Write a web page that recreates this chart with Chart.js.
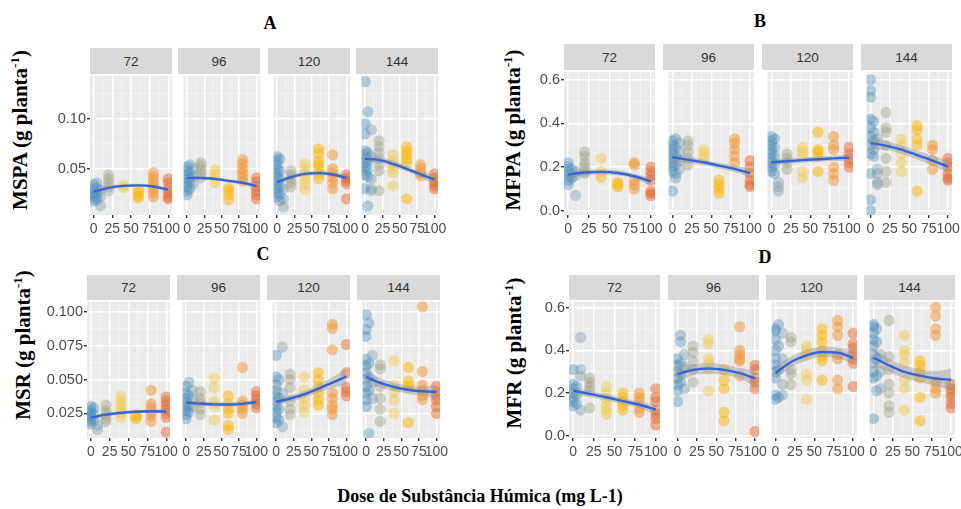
<!DOCTYPE html>
<html><head><meta charset="utf-8">
<script src="https://cdn.jsdelivr.net/npm/chart.js@4.4.0/dist/chart.umd.min.js"></script>
<style>
body{margin:0;background:#fff;width:961px;height:509px;overflow:hidden;position:relative;font-family:"Liberation Sans",Arial,sans-serif}
.strip{position:absolute;background:#d9d9d9;color:#333;font-size:13.5px;display:flex;align-items:center;justify-content:center;font-family:"Liberation Sans",Arial,sans-serif}
.title{position:absolute;font-family:"Liberation Serif","Times New Roman",serif;font-weight:bold;transform:translate(-50%,-50%);white-space:nowrap;color:#000}
.ytitle{position:absolute;font-family:"Liberation Serif","Times New Roman",serif;font-weight:bold;font-size:21px;transform:translate(-50%,-50%) rotate(-90deg);white-space:nowrap;color:#000}
.ytitle sup{font-size:13px}
canvas{position:absolute}
</style></head><body>
<script>
// ---------- DATA ----------
const facetLabels = ['72', '96', '120', '144'];
const doseGroups = [0, 4, 9, 20, 40, 60, 80, 100];
const fitDoses = [0, 20, 40, 60, 80, 100];
const xTicks = [0, 25, 50, 75, 100];
const xTickLabels = ['0', '25', '50', '75', '100'];

const ticksA = [0.05, 0.10];
const tickLabelsA = ['0.05', '0.10'];
const ticksB = [0.0, 0.2, 0.4, 0.6];
const tickLabelsB = ['0.0', '0.2', '0.4', '0.6'];
const ticksC = [0.025, 0.050, 0.075, 0.100];
const tickLabelsC = ['0.025', '0.050', '0.075', '0.100'];
const ticksD = [0.0, 0.2, 0.4, 0.6];
const tickLabelsD = ['0.0', '0.2', '0.4', '0.6'];

// Panel A: MSPA
const mspa72 = [
 [0.034,0.030,0.027,0.024,0.021,0.018],
 [0.036,0.031,0.026,0.022,0.019],
 [0.029,0.022,0.013],
 [0.044,0.040,0.036,0.032,0.028],
 [0.034,0.031],
 [0.029,0.026,0.023,0.021],
 [0.046,0.042,0.038,0.034,0.030,0.026,0.022],
 [0.040,0.036,0.030,0.026,0.022,0.020]
];
const mspa96 = [
 [0.052,0.048,0.044,0.040,0.036,0.032,0.028,0.024],
 [0.054,0.046,0.041,0.037,0.030],
 [0.050,0.043,0.035],
 [0.056,0.053,0.049,0.045,0.041],
 [0.049,0.045,0.041,0.036],
 [0.031,0.028,0.024,0.019],
 [0.059,0.055,0.050,0.046,0.042,0.038],
 [0.041,0.037,0.032,0.028,0.024,0.020]
];
const mspa120 = [
 [0.062,0.058,0.054,0.050,0.046,0.042,0.038,0.034,0.030,0.026,0.022],
 [0.060,0.048,0.040,0.032,0.024,0.018],
 [0.030,0.020,0.012],
 [0.048,0.044,0.040,0.036,0.032],
 [0.055,0.050,0.045,0.040,0.035,0.029],
 [0.070,0.065,0.058,0.054,0.050,0.045,0.040],
 [0.064,0.050,0.046,0.041,0.036,0.030],
 [0.044,0.041,0.038,0.035,0.020]
];
const mspa144 = [
 [0.137,0.095,0.085,0.068,0.064,0.060,0.056,0.052,0.048,0.044,0.030],
 [0.107,0.066,0.058,0.050,0.042,0.013],
 [0.089,0.062,0.040,0.030,0.028],
 [0.078,0.072,0.066,0.060,0.054,0.048,0.028],
 [0.064,0.058,0.054,0.050,0.046,0.033],
 [0.072,0.068,0.064,0.060,0.056,0.020],
 [0.054,0.050,0.046,0.043],
 [0.045,0.041,0.037,0.033,0.030]
];
const fitMSPA = [
 [0.027,0.031,0.033,0.0335,0.0323,0.029],
 [0.041,0.0408,0.040,0.038,0.036,0.0328],
 [0.0368,0.0417,0.045,0.0457,0.0444,0.0411],
 [0.0599,0.059,0.055,0.050,0.0444,0.0391]
];
const seMSPA = [
 [0.002,0.0015,0.0015,0.0015,0.0015,0.002],
 [0.002,0.0015,0.0015,0.0015,0.002,0.003],
 [0.003,0.002,0.002,0.002,0.002,0.003],
 [0.004,0.003,0.003,0.003,0.003,0.005]
];

// Panel B: MFPA
const mfpa72 = [
 [0.22,0.20,0.18,0.16,0.14,0.12],
 [0.19,0.17,0.15],
 [0.18,0.16,0.07],
 [0.27,0.25,0.22,0.20,0.18,0.17],
 [0.24,0.18,0.16,0.15],
 [0.13,0.12,0.11],
 [0.22,0.21,0.14,0.12,0.10],
 [0.20,0.18,0.16,0.14,0.09,0.08,0.07]
];
const mfpa96 = [
 [0.32,0.30,0.28,0.26,0.24,0.22,0.20,0.18,0.09],
 [0.33,0.29,0.25,0.21,0.17,0.15],
 [0.31,0.27,0.23,0.19],
 [0.32,0.30,0.27,0.24,0.21],
 [0.28,0.26,0.24],
 [0.14,0.12,0.10,0.08],
 [0.33,0.31,0.28,0.25,0.22],
 [0.23,0.20,0.17,0.14,0.12,0.11]
];
const mfpa120 = [
 [0.34,0.32,0.30,0.28,0.26,0.24,0.22,0.20,0.18],
 [0.33,0.29,0.25,0.21,0.17],
 [0.13,0.11,0.09],
 [0.26,0.24,0.22,0.19],
 [0.29,0.27,0.25,0.18,0.15],
 [0.36,0.28,0.27,0.25,0.18],
 [0.34,0.30,0.28,0.20,0.17,0.14],
 [0.29,0.26,0.24,0.22,0.20]
];
const mfpa144 = [
 [0.60,0.55,0.52,0.42,0.38,0.34,0.30,0.26,0.17,0.05,0.0],
 [0.41,0.36,0.32,0.28,0.25],
 [0.33,0.19,0.17,0.13,0.12],
 [0.45,0.38,0.36,0.30,0.24,0.18,0.13],
 [0.33,0.30,0.26,0.22,0.18],
 [0.39,0.37,0.33,0.30,0.09],
 [0.30,0.28,0.23,0.19],
 [0.24,0.22,0.20,0.17,0.15,0.14]
];
const fitMFPA = [
 [0.166,0.175,0.178,0.173,0.158,0.134],
 [0.245,0.234,0.222,0.207,0.192,0.172],
 [0.222,0.227,0.232,0.236,0.240,0.243],
 [0.310,0.298,0.280,0.255,0.230,0.202]
];
const seMFPA = [
 [0.015,0.012,0.012,0.012,0.012,0.018],
 [0.02,0.015,0.013,0.013,0.015,0.02],
 [0.015,0.012,0.012,0.012,0.012,0.015],
 [0.03,0.02,0.02,0.02,0.022,0.03]
];

// Panel C: MSR
const msr72 = [
 [0.030,0.027,0.025,0.023,0.021,0.019,0.017],
 [0.029,0.024,0.020],
 [0.016,0.013],
 [0.031,0.027,0.024,0.021,0.019],
 [0.038,0.034,0.031,0.028,0.025,0.022],
 [0.024,0.022,0.021],
 [0.042,0.032,0.029,0.026,0.023,0.019],
 [0.037,0.034,0.031,0.028,0.025,0.022,0.011]
];
const msr96 = [
 [0.045,0.040,0.036,0.033,0.030,0.027,0.024,0.021],
 [0.048,0.038,0.031,0.026],
 [0.042,0.035,0.030],
 [0.041,0.036,0.033,0.028,0.024],
 [0.051,0.044,0.034,0.030,0.020],
 [0.038,0.032,0.028,0.025,0.016,0.013],
 [0.059,0.034,0.031,0.028,0.025],
 [0.041,0.038,0.035,0.032,0.029]
];
const msr120 = [
 [0.068,0.052,0.046,0.042,0.038,0.034,0.030,0.026,0.022,0.018],
 [0.050,0.036,0.028,0.020],
 [0.074,0.040,0.015],
 [0.054,0.050,0.044,0.034,0.028,0.024],
 [0.052,0.042,0.036,0.031,0.026],
 [0.055,0.050,0.045,0.040,0.035,0.031],
 [0.091,0.088,0.072,0.040,0.036,0.031,0.028,0.024],
 [0.076,0.055,0.044,0.041,0.038]
];
const msr144 = [
 [0.098,0.087,0.082,0.065,0.060,0.055,0.050,0.045,0.040,0.035,0.030],
 [0.092,0.062,0.052,0.042,0.010],
 [0.068,0.048,0.036],
 [0.061,0.058,0.045,0.036,0.028,0.019],
 [0.064,0.046,0.041,0.035,0.025],
 [0.059,0.049,0.046,0.044,0.018],
 [0.104,0.056,0.046,0.042,0.038,0.035],
 [0.045,0.041,0.038,0.035,0.030,0.025]
];
const fitMSR = [
 [0.0218,0.0240,0.0254,0.0262,0.0265,0.0263],
 [0.0330,0.0322,0.0316,0.0315,0.0320,0.0334],
 [0.0335,0.0360,0.0390,0.0433,0.0477,0.0523],
 [0.0518,0.0476,0.0445,0.0425,0.0413,0.0408]
];
const seMSR = [
 [0.0015,0.0012,0.0012,0.0012,0.0012,0.0018],
 [0.002,0.0015,0.0015,0.0015,0.0015,0.002],
 [0.003,0.0025,0.0025,0.003,0.004,0.006],
 [0.005,0.0035,0.003,0.003,0.0035,0.005]
];

// Panel D: MFR
const mfr72 = [
 [0.31,0.24,0.22,0.20,0.18,0.16,0.14],
 [0.23,0.19,0.15],
 [0.46,0.31,0.28,0.12],
 [0.27,0.25,0.23,0.21,0.13],
 [0.23,0.20,0.17,0.14,0.12,0.10],
 [0.20,0.18,0.16,0.14,0.12],
 [0.20,0.18,0.16,0.13,0.11],
 [0.22,0.18,0.16,0.12,0.10,0.08,0.05]
];
const mfr96 = [
 [0.36,0.33,0.30,0.27,0.24,0.21,0.16],
 [0.47,0.44,0.34,0.29,0.25],
 [0.38,0.32,0.22],
 [0.42,0.39,0.35,0.31,0.25],
 [0.45,0.43,0.36,0.34,0.31,0.21],
 [0.31,0.26,0.22,0.11,0.07],
 [0.51,0.40,0.38,0.36,0.35,0.28],
 [0.33,0.31,0.27,0.25,0.22,0.02]
];
const mfr120 = [
 [0.50,0.49,0.45,0.40,0.36,0.33,0.30,0.27,0.19,0.17],
 [0.52,0.42,0.31,0.18],
 [0.48,0.36,0.24,0.19],
 [0.46,0.44,0.31,0.29,0.24],
 [0.42,0.40,0.38,0.29,0.26,0.17],
 [0.50,0.47,0.44,0.40,0.37,0.35,0.26],
 [0.54,0.51,0.47,0.38,0.36,0.26,0.22],
 [0.48,0.43,0.41,0.38,0.36,0.34,0.23]
];
const mfr144 = [
 [0.52,0.51,0.48,0.45,0.42,0.38,0.34,0.30,0.27,0.08],
 [0.50,0.44,0.36,0.28,0.21],
 [0.38,0.30,0.22],
 [0.54,0.37,0.31,0.24,0.20,0.14,0.11],
 [0.47,0.40,0.38,0.34,0.26,0.22,0.12],
 [0.35,0.33,0.30,0.27,0.18,0.07],
 [0.60,0.56,0.50,0.47,0.25,0.22,0.20],
 [0.24,0.22,0.20,0.18,0.15,0.13]
];
const fitMFR = [
 [0.211,0.196,0.180,0.162,0.145,0.123],
 [0.288,0.308,0.315,0.308,0.293,0.268],
 [0.293,0.345,0.376,0.392,0.389,0.365],
 [0.365,0.330,0.299,0.281,0.268,0.262]
];
const seMFR = [
 [0.02,0.015,0.015,0.015,0.015,0.022],
 [0.04,0.025,0.025,0.025,0.025,0.04],
 [0.03,0.025,0.025,0.025,0.025,0.03],
 [0.04,0.03,0.03,0.03,0.035,0.05]
];

// ---------- STYLE / LAYOUT ----------
const groupColors = [
 'rgba(80,145,190,0.42)', 'rgba(95,150,185,0.42)', 'rgba(130,160,175,0.42)',
 'rgba(160,160,135,0.42)', 'rgba(242,200,70,0.45)', 'rgba(250,185,20,0.55)',
 'rgba(242,150,50,0.5)', 'rgba(232,105,50,0.5)'
];

const panels = [
 {letter:'A', ytitle:'MSPA (g planta<sup>-1</sup>)', groups:[mspa72,mspa96,mspa120,mspa144], fit:fitMSPA, se:seMSPA,
  ticks:ticksA, labels:tickLabelsA, yMin:0.0039, yMax:0.1431,
  stripTop:48, plotTop:74, plotBottom:215, lefts:[90,178,268,356], width:82,
  titlePos:[270,23], ytitlePos:[20,130]},
 {letter:'B', ytitle:'MFPA (g planta<sup>-1</sup>)', groups:[mfpa72,mfpa96,mfpa120,mfpa144], fit:fitMFPA, se:seMFPA,
  ticks:ticksB, labels:tickLabelsB, yMin:-0.0195, yMax:0.6376,
  stripTop:44, plotTop:70, plotBottom:215, lefts:[564,663,762,861], width:91,
  titlePos:[760,21], ytitlePos:[513,130]},
 {letter:'C', ytitle:'MSR (g planta<sup>-1</sup>)', groups:[msr72,msr96,msr120,msr144], fit:fitMSR, se:seMSR,
  ticks:ticksC, labels:tickLabelsC, yMin:0.0067, yMax:0.1078,
  stripTop:275, plotTop:300, plotBottom:438, lefts:[87,177,267,357], width:83,
  titlePos:[263,254], ytitlePos:[23,345]},
 {letter:'D', ytitle:'MFR (g planta<sup>-1</sup>)', groups:[mfr72,mfr96,mfr120,mfr144], fit:fitMFR, se:seMFR,
  ticks:ticksD, labels:tickLabelsD, yMin:-0.0106, yMax:0.6278,
  stripTop:275, plotTop:300, plotBottom:438, lefts:[569,668,766,864], width:91,
  titlePos:[765,257], ytitlePos:[514,353]}
];

function minorValues(scale) {
  const t = scale.ticks.map(k => k.value);
  const out = [];
  if (t.length < 2) return out;
  const step = t[1] - t[0];
  for (let v = t[0] - step / 2; v <= scale.max + 1e-9; v += step) if (v >= scale.min) out.push(v);
  return out;
}
const bgPlugin = {
  id: 'bg',
  beforeDraw(chart) {
    const {ctx, chartArea: a, scales: {x, y}} = chart;
    ctx.save();
    ctx.fillStyle = '#ebebeb';
    ctx.fillRect(a.left, a.top, a.right - a.left, a.bottom - a.top);
    ctx.strokeStyle = '#f8f8f8';
    ctx.lineWidth = 0.7;
    ctx.beginPath();
    minorValues(x).forEach(v => { const p = x.getPixelForValue(v); ctx.moveTo(p, a.top); ctx.lineTo(p, a.bottom); });
    minorValues(y).forEach(v => { const p = y.getPixelForValue(v); ctx.moveTo(a.left, p); ctx.lineTo(a.right, p); });
    ctx.stroke();
    ctx.restore();
  }
};

function addDiv(cls, html, style) {
  const d = document.createElement('div');
  d.className = cls; d.innerHTML = html;
  Object.assign(d.style, style);
  document.body.appendChild(d);
  return d;
}

function makeFacet(p, fi) {
  const first = fi === 0;
  const yW = first ? 64 : 0;
  const padT = 4, padR = 16, xH = 26;
  const ph = p.plotBottom - p.plotTop;
  const left = p.lefts[fi] - yW, top = p.plotTop - padT;
  const W = yW + p.width + padR, H = padT + ph + xH;
  const c = document.createElement('canvas');
  c.width = W; c.height = H;
  Object.assign(c.style, {left: left + 'px', top: top + 'px', width: W + 'px', height: H + 'px'});
  document.body.appendChild(c);

  const fit = p.fit[fi], se = p.se[fi];
  const datasets = [];
  datasets.push({type: 'line', data: fitDoses.map((d, i) => ({x: d, y: fit[i]})),
    borderColor: '#3465d6', borderWidth: 2.4, pointRadius: 0, fill: false,
    cubicInterpolationMode: 'monotone', order: 0});
  datasets.push({type: 'line', data: fitDoses.map((d, i) => ({x: d, y: fit[i] - se[i]})),
    borderColor: 'rgba(0,0,0,0)', borderWidth: 0, pointRadius: 0, fill: false,
    cubicInterpolationMode: 'monotone', order: 1});
  datasets.push({type: 'line', data: fitDoses.map((d, i) => ({x: d, y: fit[i] + se[i]})),
    borderColor: 'rgba(0,0,0,0)', borderWidth: 0, pointRadius: 0, fill: '-1',
    backgroundColor: 'rgba(150,150,150,0.45)', cubicInterpolationMode: 'monotone', order: 1});
  p.groups[fi].forEach((ys, g) => datasets.push({
    type: 'scatter', data: ys.map(y => ({x: doseGroups[g], y})),
    backgroundColor: groupColors[g], borderWidth: 0, pointRadius: 5.6, pointHoverRadius: 5.6,
    order: 2, clip: 0
  }));

  new Chart(c, {
    type: 'scatter',
    data: {datasets},
    options: {
      responsive: false, animation: false, devicePixelRatio: 1,
      layout: {padding: {left: 0, top: padT, right: padR, bottom: 0}},
      plugins: {legend: {display: false}, tooltip: {enabled: false}},
      events: [],
      scales: {
        x: {
          type: 'linear', min: -5, max: 105,
          afterBuildTicks: s => { s.ticks = xTicks.map(v => ({value: v})); },
          afterFit: s => { s.height = xH; s.paddingLeft = 0; s.paddingRight = 0; },
          grid: {color: '#ffffff', lineWidth: 1.4, tickLength: 3, tickColor: '#333', drawTicks: true},
          border: {display: false},
          ticks: {autoSkip: false, maxRotation: 0, minRotation: 0, padding: 3, color: '#4d4d4d',
            font: {size: 14, family: '"Liberation Sans", Arial, sans-serif'},
            callback: (v, i) => xTickLabels[i]}
        },
        y: {
          type: 'linear', min: p.yMin, max: p.yMax,
          afterBuildTicks: s => { s.ticks = p.ticks.map(v => ({value: v})); },
          afterFit: s => { s.width = yW; s.paddingTop = 0; s.paddingBottom = 0; },
          grid: {color: '#ffffff', lineWidth: 1.4, tickLength: first ? 3 : 0, tickColor: '#333', drawTicks: first},
          border: {display: false},
          ticks: {display: first, padding: 1, color: '#4d4d4d',
            font: {size: 14.5, family: '"Liberation Sans", Arial, sans-serif'},
            callback: (v, i) => p.labels[i]}
        }
      }
    },
    plugins: [bgPlugin]
  });
}

panels.forEach(p => {
  addDiv('title', p.letter, {left: p.titlePos[0] + 'px', top: p.titlePos[1] + 'px', fontSize: '18px'});
  addDiv('ytitle', p.ytitle, {left: p.ytitlePos[0] + 'px', top: p.ytitlePos[1] + 'px'});
  p.lefts.forEach((l, fi) => {
    addDiv('strip', facetLabels[fi], {left: l + 'px', top: p.stripTop + 'px',
      width: p.width + 'px', height: (p.plotTop - p.stripTop) + 'px'});
    makeFacet(p, fi);
  });
});
addDiv('title', 'Dose de Substância Húmica (mg L-1)', {left: '480px', top: '496px', fontSize: '18px'});
</script>
</body></html>
